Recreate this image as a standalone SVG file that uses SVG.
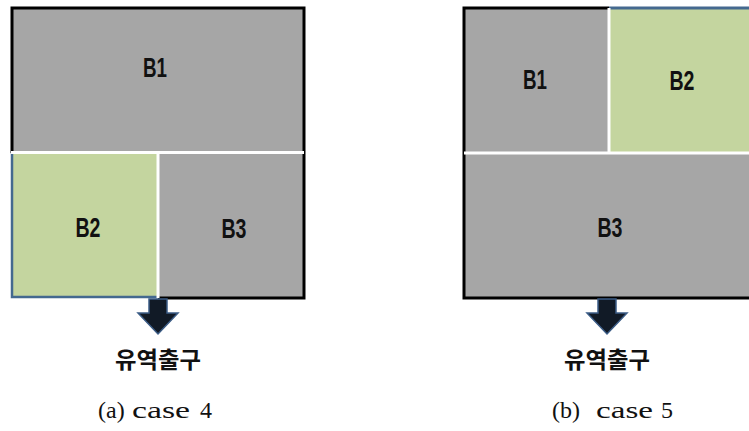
<svg xmlns="http://www.w3.org/2000/svg" width="749" height="431" viewBox="0 0 749 431">
<style>
.gray{fill:#a6a6a6}
.green{fill:#c4d59f}
.sep{stroke:#ffffff;stroke-width:3}
.frame{fill:none;stroke:#000;stroke-width:3}
.lbl{font-family:"Liberation Sans","Arial",sans-serif;font-weight:bold;font-size:27px;fill:#111;text-anchor:middle}
.kr{font-family:"Noto Sans CJK KR","Noto Sans CJK SC",sans-serif;font-weight:bold;font-size:23px;fill:#111;text-anchor:middle}
.cap{font-family:"Liberation Serif",serif;font-size:24px;fill:#111}
.arrow{fill:#111a26;stroke:#3b5c86;stroke-width:1.5}
</style>
<rect width="749" height="431" fill="#fff"/>
<g id="panel-a">
  <g id="a-B1"><rect class="gray" x="12" y="8" width="292" height="145"/><text class="lbl" x="155" y="77" textLength="24" lengthAdjust="spacingAndGlyphs">B1</text></g>
  <g id="a-B2"><rect class="green" x="12" y="153" width="146" height="145"/><path d="M12,153 V297 H158" fill="none" stroke="#44698f" stroke-width="2.5"/><text class="lbl" x="88" y="237" textLength="25" lengthAdjust="spacingAndGlyphs">B2</text></g>
  <g id="a-B3"><rect class="gray" x="158" y="153" width="146" height="145"/><text class="lbl" x="234" y="238" textLength="25" lengthAdjust="spacingAndGlyphs">B3</text></g>
  <path d="M12,153 V8 H304 V298 H158" class="frame"/>
  <line class="sep" x1="11" y1="152.5" x2="304" y2="152.5"/>
  <line class="sep" x1="158" y1="153" x2="158" y2="298"/>
</g>
<g id="panel-b">
  <g id="b-B1"><rect class="gray" x="464" y="8" width="145" height="145"/><text class="lbl" x="535" y="89" textLength="24" lengthAdjust="spacingAndGlyphs">B1</text></g>
  <g id="b-B2"><rect class="green" x="609" y="8" width="140" height="145"/><line x1="609" y1="8" x2="749" y2="8" stroke="#44698f" stroke-width="3"/><text class="lbl" x="682" y="90" textLength="25" lengthAdjust="spacingAndGlyphs">B2</text></g>
  <g id="b-B3"><rect class="gray" x="464" y="153" width="285" height="145"/><text class="lbl" x="610" y="237" textLength="25" lengthAdjust="spacingAndGlyphs">B3</text></g>
  <path d="M609,8 H464 V298 H749" class="frame"/>
  <line class="sep" x1="464" y1="153" x2="749" y2="153"/>
  <line class="sep" x1="609" y1="8" x2="609" y2="153"/>
</g>
<g id="connectors">
  <path class="arrow" d="M149,299 H167 V313 H178 L158,334 L138,313 H149 Z"/>
  <path class="arrow" d="M598,299 H616 V313 H627 L607,334 L587,313 H598 Z"/>
</g>
<g id="outlet-a"><text class="kr" x="158" y="368" textLength="86" lengthAdjust="spacingAndGlyphs">유역출구</text></g>
<g id="outlet-b"><text class="kr" x="607" y="368" textLength="86" lengthAdjust="spacingAndGlyphs">유역출구</text></g>
<g id="caption-a">
  <text class="cap" y="418"><tspan x="98">(a)</tspan><tspan x="132" textLength="58" lengthAdjust="spacingAndGlyphs">case</tspan><tspan x="200">4</tspan></text>
</g>
<g id="caption-b">
  <text class="cap" y="418"><tspan x="552">(b)</tspan><tspan x="596" textLength="57" lengthAdjust="spacingAndGlyphs">case</tspan><tspan x="661">5</tspan></text>
</g>
</svg>
